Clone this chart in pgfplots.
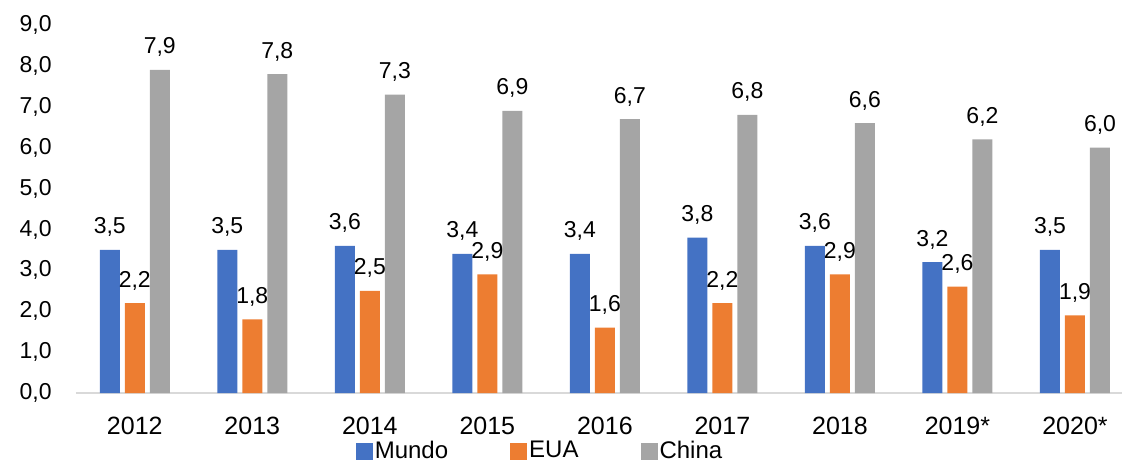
\documentclass[border=0pt]{standalone}
\usepackage{pgfplots}
\pgfplotsset{compat=1.18}
\usepackage{fontspec}
\setmainfont{Liberation Sans}
\definecolor{cMundo}{HTML}{4472C4}
\definecolor{cEUA}{HTML}{ED7D31}
\definecolor{cChina}{HTML}{A5A5A5}
\begin{document}
\begin{tikzpicture}
\begin{axis}[
    at={(0pt,0pt)}, anchor=south west,
    scale only axis,
    width=523pt, height=184pt,
    xmin=-0.5, xmax=8.4,
    ymin=0, ymax=9,
    ybar=2.5pt, bar width=10pt,
    axis x line*=bottom, axis y line*=left,
    x axis line style={draw=black!15, line width=0.8pt},
    y axis line style={draw=none},
    major tick length=0pt,
    xtick={0,...,8},
    xticklabels={2012,2013,2014,2015,2016,2017,2018,2019*,2020*},
    xticklabel style={anchor=north, inner sep=0pt, yshift=-12pt,
        font=\fontsize{12.5pt}{14pt}\selectfont},
    ytick={0,1,...,9},
    yticklabel style={anchor=east, inner sep=0pt, xshift=-12pt,
        font=\fontsize{11.5pt}{13pt}\selectfont,
        /pgf/number format/.cd, use comma, fixed, fixed zerofill, precision=1},
    /pgf/number format/assume math mode=true,
    nodes near coords,
    nodes near coords style={anchor=base, inner sep=0pt, yshift=8pt,
        font=\fontsize{11.5pt}{13pt}\selectfont,
        /pgf/number format/.cd, use comma, fixed, fixed zerofill, precision=1, assume math mode=true},
    legend columns=-1,
    legend style={draw=none, fill=none, at={(0.4436,-0.158)}, anchor=center,
        font=\fontsize{12pt}{14pt}\selectfont,
        /tikz/every even column/.append style={column sep=30pt},
        nodes={inner sep=1pt}},
    legend image code/.code={\fill[#1] (0pt,-4.25pt) rectangle (8.5pt,4.25pt);},
    clip=false,
]
\addplot[fill=cMundo, draw=none] coordinates {(0,3.5) (1,3.5) (2,3.6) (3,3.4) (4,3.4) (5,3.8) (6,3.6) (7,3.2) (8,3.5)};
\addlegendentry{Mundo}
\addplot[fill=cEUA, draw=none] coordinates {(0,2.2) (1,1.8) (2,2.5) (3,2.9) (4,1.6) (5,2.2) (6,2.9) (7,2.6) (8,1.9)};
\addlegendentry{EUA}
\addplot[fill=cChina, draw=none] coordinates {(0,7.9) (1,7.8) (2,7.3) (3,6.9) (4,6.7) (5,6.8) (6,6.6) (7,6.2) (8,6.0)};
\addlegendentry{China}
\end{axis}
\pgfresetboundingbox
\useasboundingbox (-38pt,-34pt) rectangle (523pt,196.5pt);
\end{tikzpicture}
\end{document}
